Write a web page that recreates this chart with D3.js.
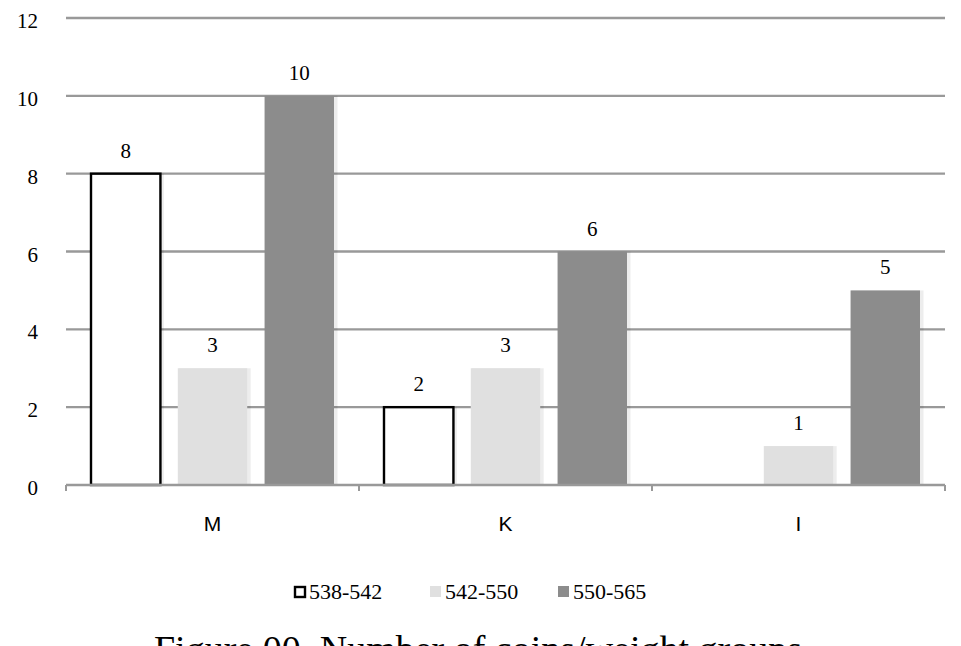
<!DOCTYPE html>
<html><head><meta charset="utf-8">
<script src="https://cdn.jsdelivr.net/npm/d3@7"></script>
<style>body{margin:0;background:#fff}svg{display:block}</style>
</head><body>
<script>
const categories = ["M", "K", "I"];
const seriesNames = ["538-542", "542-550", "550-565"];
const values538 = [8, 2, 0];
const values542 = [3, 3, 1];
const values550 = [10, 6, 5];
const yTicks = [0, 2, 4, 6, 8, 10, 12];
const caption = "Figure 00. Number of coins/weight groups";

(function(){
const series = [values538, values542, values550];
const fills = ["#ffffff", "#e0e0e0", "#8c8c8c"];
const strokes = ["#000", "none", "none"];

const W = 961, H = 646;
const svg = d3.select("body").append("svg").attr("width", W).attr("height", H);
const pL = 66, pR = 945, pT = 18, pB = 485;
const serif = "'Liberation Serif', 'DejaVu Serif', serif";

const y = d3.scaleLinear().domain([0, 12]).range([pB, pT]);
const x0 = d3.scaleBand().domain(categories).range([pL, pR]).paddingInner(0).paddingOuter(0);
const x1 = d3.scaleBand().domain([0,1,2]).range([25, x0.bandwidth() - 25]).paddingInner(0.2).paddingOuter(0);

svg.append("g").selectAll("line").data(yTicks.filter(d => d > 0)).join("line")
  .attr("x1", pL).attr("x2", pR).attr("y1", d => y(d)).attr("y2", d => y(d))
  .attr("stroke", "#999").attr("stroke-width", 2.4);

svg.append("g").selectAll("text").data(yTicks).join("text")
  .attr("x", 38).attr("y", d => y(d) + 10).attr("text-anchor", "end")
  .attr("font-family", serif).attr("font-size", 21).attr("fill", "#000").text(d => d);

const groups = svg.append("g").selectAll("g").data(categories).join("g")
  .attr("transform", d => `translate(${x0(d)},0)`);
groups.each(function(cat, ci) {
  const g = d3.select(this);
  series.forEach((vals, si) => {
    const v = vals[ci];
    if (v <= 0) return;
    const bx = x1(si), bw = x1.bandwidth();
    g.append("rect").attr("x", bx + 1).attr("y", y(v)).attr("width", bw + 2.5).attr("height", pB - y(v))
      .attr("fill", "#000").attr("opacity", 0.07);
    g.append("rect").attr("x", bx).attr("y", y(v)).attr("width", bw).attr("height", pB - y(v))
      .attr("fill", fills[si]).attr("stroke", strokes[si]).attr("stroke-width", 2.4);
    g.append("text").attr("x", bx + bw / 2).attr("y", y(v) - 16).attr("text-anchor", "middle")
      .attr("font-family", serif).attr("font-size", 21).attr("fill", "#000").text(v);
  });
});

const ax = svg.append("g");
ax.append("line").attr("x1", pL).attr("x2", pR).attr("y1", pB).attr("y2", pB)
  .attr("stroke", "#999").attr("stroke-width", 2.4);
const bounds = categories.map(c => x0(c)).concat([pR]);
ax.selectAll("line.tick").data(bounds).join("line").attr("class", "tick")
  .attr("x1", d => d).attr("x2", d => d).attr("y1", pB).attr("y2", pB + 6)
  .attr("stroke", "#999").attr("stroke-width", 2);
ax.selectAll("text").data(categories).join("text")
  .attr("x", d => x0(d) + x0.bandwidth() / 2).attr("y", 531).attr("text-anchor", "middle")
  .attr("font-family", "'Liberation Sans', Arial, sans-serif").attr("font-size", 21).attr("fill", "#000").text(d => d);

const legX = [294, 430, 558];
const leg = svg.append("g");
seriesNames.forEach((n, i) => {
  leg.append("rect").attr("x", legX[i] + (i === 0 ? 1 : 0)).attr("y", 586 + (i === 0 ? 1 : 0))
    .attr("width", i === 0 ? 10 : 11).attr("height", i === 0 ? 10 : 11)
    .attr("fill", fills[i]).attr("stroke", strokes[i]).attr("stroke-width", 2.4);
  leg.append("text").attr("x", legX[i] + 15).attr("y", 599)
    .attr("font-family", serif).attr("font-size", 22).attr("fill", "#000").text(n);
});

svg.append("text").attr("x", 478).attr("y", 662).attr("text-anchor", "middle")
  .attr("font-family", serif).attr("font-size", 38).attr("fill", "#000").text(caption);
})();
</script>
</body></html>
